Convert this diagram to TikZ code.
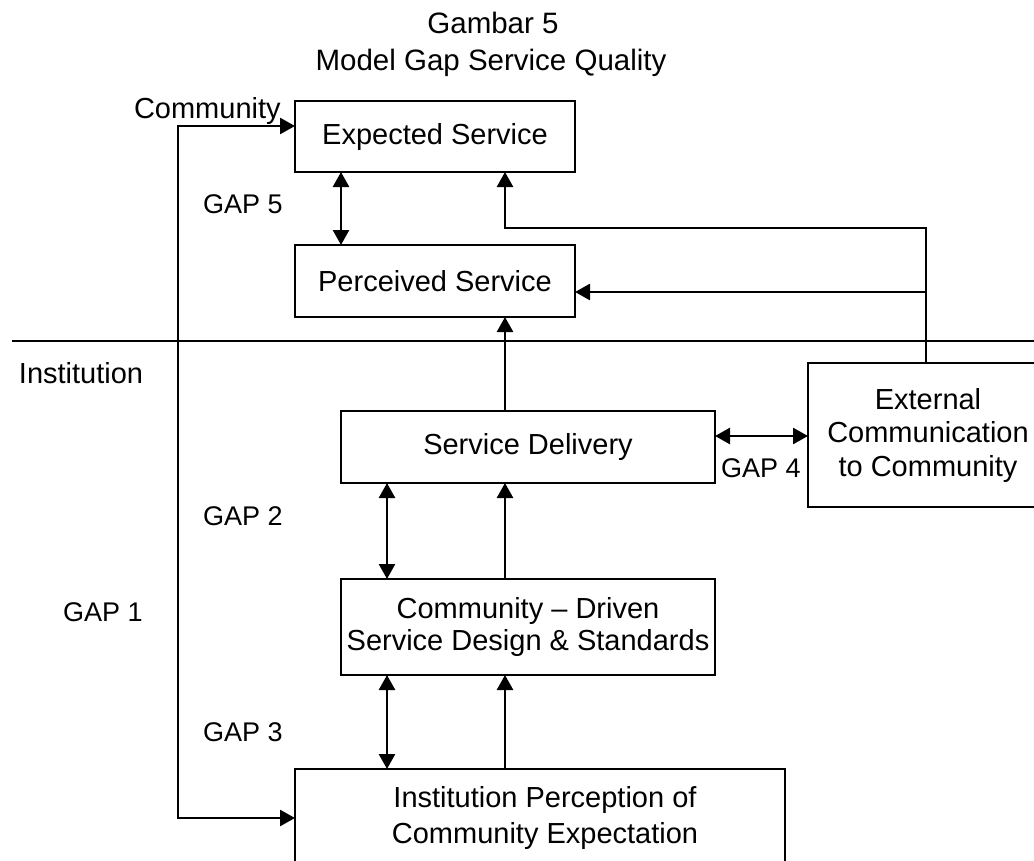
\documentclass[tikz,border=0pt]{standalone}
\usepackage{fontspec}
\setmainfont{Liberation Sans}
\usetikzlibrary{arrows.meta}
\begin{document}
\begin{tikzpicture}[x=1pt,y=-1pt,
  every node/.style={inner sep=0pt,outer sep=0pt},
  box/.style={draw,line width=2.6pt,align=center,font=\fontsize{29}{35}\selectfont},
  lbl/.style={anchor=base west,font=\fontsize{29}{35}\selectfont},
  gaplbl/.style={anchor=base west,font=\fontsize{27}{32}\selectfont},
  ttl/.style={anchor=base,font=\fontsize{29.5}{35}\selectfont},
  ln/.style={line width=2.6pt},
  arr/.style={ln,-{Triangle[length=15pt,width=16pt]}},
  dar/.style={ln,{Triangle[length=15pt,width=16pt]}-{Triangle[length=15pt,width=16pt]}}]
\useasboundingbox (0,0) rectangle (1034,860);

% titles
\node[ttl] (t1) at (493,33) {Gambar 5};
\node[ttl] (t2) at (491,70) {Model Gap Service Quality};

% boxes
\node[box,minimum width=280pt,minimum height=71pt] (exp) at (435,136.5) {Expected Service};
\node[box,minimum width=280pt,minimum height=72pt] (per) at (435,281) {Perceived Service};
\node[box,minimum width=374pt,minimum height=72pt] (sd) at (528,447) {Service Delivery};
\node[box,minimum width=240pt,minimum height=144pt,font=\fontsize{29}{33.5}\selectfont] (ext) at (928,435) {External\\Communication\\to Community};
\node[box,minimum width=374pt,minimum height=96pt,font=\fontsize{29}{32}\selectfont] (cd) at (528,627) {Community -- Driven\\Service Design \& Standards};
\node[box,minimum width=490pt,minimum height=97pt,font=\fontsize{29}{36}\selectfont] (ip) at (540,817.5) {\hspace*{10pt}Institution Perception of\\\hspace*{10pt}Community Expectation};

% labels
\node[lbl] (comm) at (134,118) {Community};
\node[lbl] (inst) at (19,383) {Institution};
\node[gaplbl] (gap5) at (203,213) {GAP 5};
\node[gaplbl] (gap4) at (721,477) {GAP 4};
\node[gaplbl] (gap2) at (203,525) {GAP 2};
\node[gaplbl] (gap1) at (63,621) {GAP 1};
\node[gaplbl] (gap3) at (203,741) {GAP 3};

% helper coordinates
\coordinate (L1) at (178,126);
\coordinate (L2) at (178,818);
\coordinate (g5x) at (341,0);
\coordinate (gx) at (387,0);
\coordinate (mx) at (505,0);
\coordinate (c1) at (926,228);
\coordinate (b1) at (505,228);
\coordinate (c2) at (926,292);
\coordinate (g4) at (0,436);
\coordinate (dl) at (12,341);
\coordinate (dr) at (1034,341);

% divider
\draw[ln] (dl) -- (dr);

% GAP 1 loop
\draw[dar] (exp.west |- L1) -- (L1) -- (L2) -- (ip.west |- L2);

% GAP 5
\draw[dar] (exp.south -| g5x) -- (per.north -| g5x);

% external communication feedback
\draw[arr] (ext.north -| c1) -- (c1) -- (b1) -- (exp.south -| b1);
\draw[arr] (c2) -- (per.east |- c2);

% vertical flow
\draw[arr] (sd.north -| mx) -- (per.south -| mx);
\draw[arr] (cd.north -| mx) -- (sd.south -| mx);
\draw[arr] (ip.north -| mx) -- (cd.south -| mx);

% GAP 4
\draw[dar] (sd.east |- g4) -- (ext.west |- g4);

% GAP 2, GAP 3
\draw[dar] (sd.south -| gx) -- (cd.north -| gx);
\draw[dar] (cd.south -| gx) -- (ip.north -| gx);
\end{tikzpicture}
\end{document}
